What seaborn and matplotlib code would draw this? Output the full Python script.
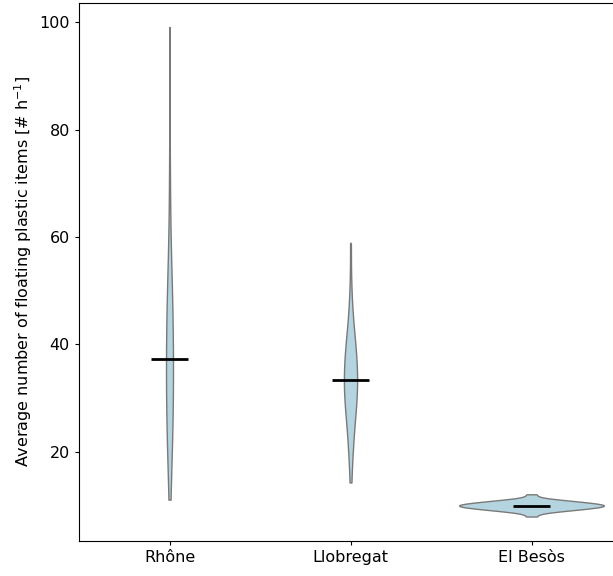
import matplotlib
matplotlib.use("Agg")
import matplotlib.pyplot as plt
import seaborn as sns
import numpy as np
import pandas as pd

rivers = ["Rhône", "Llobregat", "El Besòs"]

# sample values (approximate shape of each distribution)
rhone = [11.1, 14, 17, 19, 20.5, 22, 23, 24, 25, 26, 27, 28, 29, 30, 31, 32,
         33, 34, 35, 36, 37, 38, 39, 40, 41, 42, 43, 44, 45, 46, 47, 48,
         50, 51, 52, 54, 56, 60, 68, 75, 99.1]
llobregat = [14.3, 18, 20, 21.5, 23, 24, 25, 26, 27, 28, 28.5, 29, 29.5, 30,
             30.5, 31, 31.5, 32, 32.5, 33, 33.5, 34, 34.5, 35, 35.5, 36, 37,
             37.5, 38, 38.5, 39, 39.5, 40, 41, 42, 43, 45, 47, 50, 58.9]
besos = [7.96, 8.72, 8.90, 9.04, 9.14, 9.24, 9.32, 9.40, 9.47, 9.54, 9.60,
         9.66, 9.72, 9.78, 9.83, 9.88, 9.94, 9.98, 10.02, 10.06, 10.12, 10.17,
         10.22, 10.28, 10.34, 10.40, 10.46, 10.53, 10.60, 10.68, 10.76, 10.86,
         10.96, 11.10, 11.28, 12.1]

# mean lines
means = [37.3, 33.3, 10.0]

df = pd.DataFrame({
    "river": [rivers[0]] * len(rhone) + [rivers[1]] * len(llobregat) + [rivers[2]] * len(besos),
    "value": rhone + llobregat + besos,
})

plt.rcParams["font.size"] = 11.5

fig = plt.figure(figsize=(6.13, 5.76), dpi=100)
ax = fig.add_axes([79 / 613, 35 / 576, 543 / 613, 538.5 / 576])

sns.violinplot(data=df, x="river", y="value", order=rivers, color="lightblue",
               linecolor="gray", linewidth=1, inner=None, cut=0,
               density_norm="area", ax=ax)

pos = np.arange(len(rivers))
ax.hlines(means, pos - 0.1, pos + 0.1, color="black", lw=2, zorder=5)

ax.set_xlim(-0.5, 2.5)
ax.set_xlabel("")
ax.set_ylabel("Average number of floating plastic items [# h$^{-1}$]")
ax.tick_params(length=3)

fig.savefig("out.png", dpi=100)
